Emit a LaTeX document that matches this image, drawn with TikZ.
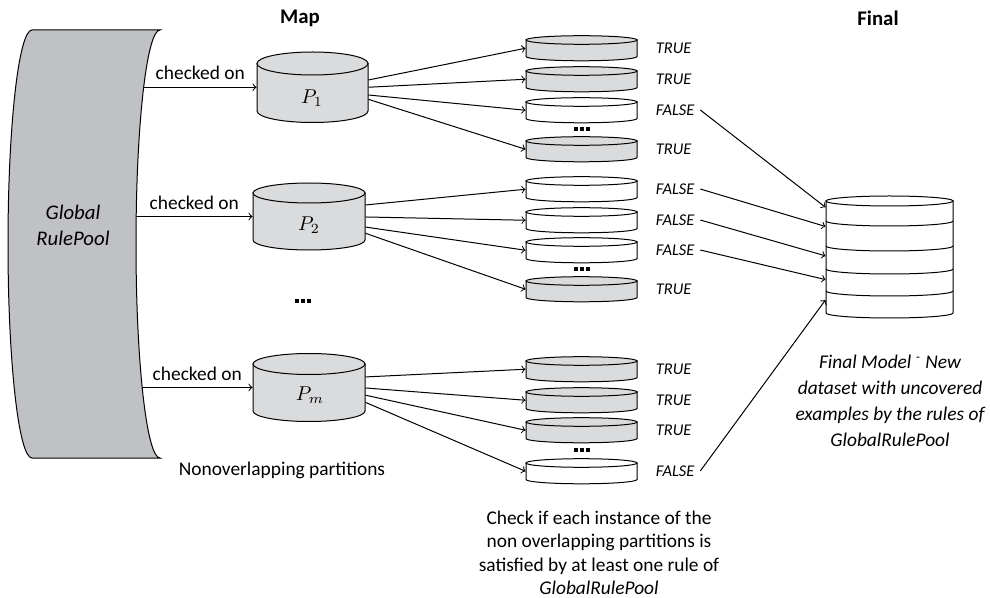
\documentclass[tikz,border=0pt]{standalone}
\usepackage{fontspec}
\setmainfont{Carlito}
\usepackage{tikz}
\usetikzlibrary{calc,fit}
\definecolor{poolgray}{RGB}{192,193,196}
\definecolor{diskgray}{RGB}{218,219,221}

% cilindro: nombre, relleno, cx, y arriba, y abajo, rx, ry
\newcommand{\cilindro}[7]{%
  \filldraw[fill=#2] (#3-#6,#4) -- (#3-#6,#5)
    arc[start angle=180, end angle=0, x radius=#6, y radius=#7] -- (#3+#6,#4) -- cycle;
  \filldraw[fill=#2] (#3,#4) ellipse[x radius=#6, y radius=#7];
  \node[fit={(#3-#6,#4) (#3+#6,#5)}, inner sep=0pt] (#1) {};
}
\newcommand{\puntitos}{\rule{2pt}{2pt}\hspace{0.8pt}\rule{2pt}{2pt}\hspace{0.8pt}\rule{2pt}{2pt}}

\begin{document}
\begin{tikzpicture}[x=0.5pt, y=-0.5pt, line width=0.5pt,
    flecha/.style={->, >=to},
    txt/.style={font=\fontsize{9.7}{11.7}\selectfont},
    etiq/.style={font=\fontsize{8.2}{10}\selectfont\itshape, anchor=west, inner sep=2.7pt},
    titulo/.style={font=\fontsize{10.4}{12}\selectfont\bfseries}]
  \useasboundingbox (0,0) rectangle (990,598);

  % Titulos
  \node[titulo] (map) at (300,18) {Map};
  \node[titulo] (final) at (878,18) {Final};

  % Global RulePool
  \filldraw[fill=poolgray] (32,30)
    arc[start angle=270, end angle=90, x radius=24, y radius=214] -- (160,458)
    arc[start angle=90, end angle=270, x radius=24, y radius=214] -- cycle;
  \node[font=\fontsize{10.4}{13}\selectfont\itshape, align=center] (pool) at (73,225) {Global\\RulePool};
  \coordinate (s1) at (144,87.25);
  \coordinate (s2) at (136,216.5);
  \coordinate (s3) at (142,387.5);

  % Particiones
  \cilindro{P1}{diskgray}{312.5}{63.5}{111}{55.5}{11.5}
  \cilindro{P2}{diskgray}{309}{193}{240}{56}{10}
  \cilindro{Pm}{diskgray}{309}{364}{411}{56}{10.5}
  \node[font=\fontsize{10}{12}\selectfont] (lp1) at (312,98) {$P_1$};
  \node[font=\fontsize{10}{12}\selectfont] (lp2) at (309,225) {$P_2$};
  \node[font=\fontsize{10}{12}\selectfont] (lpm) at (310,395) {$P_m$};
  \node (pdots) at (303,301) {\puntitos};
  \node[txt] (nonov) at (282,470) {Nonoverlapping partitions};

  \draw[flecha] (s1) -- node[above, txt] (chk1) {checked on} (P1.west);
  \draw[flecha] (s2) -- node[above, txt] (chk2) {checked on} (P2.west);
  \draw[flecha] (s3) -- node[above, txt] (chk3) {checked on} (Pm.west);

  % Discos por instancia
  \foreach \g/\k/\y/\col/\lab in {1/1/48/diskgray/TRUE, 1/2/79/diskgray/TRUE,
      1/3/110/white/FALSE, 1/4/149/diskgray/TRUE,
      2/1/189/white/FALSE, 2/2/220/white/FALSE, 2/3/250/white/FALSE, 2/4/289/diskgray/TRUE,
      3/1/369/diskgray/TRUE, 3/2/400/diskgray/TRUE, 3/3/430/diskgray/TRUE, 3/4/471/white/FALSE} {
    \cilindro{d\g\k}{\col}{581.5}{\y-8}{\y+8.5}{55.5}{4.3}
    \node[etiq] (t\g\k) at (650,\y) {\lab};
  }
  \foreach \y in {129,269,450}
    \node (dots\y) at (582,\y) {\puntitos};

  \foreach \p/\g/\fa/\fb/\fc/\fd in {P1/1/.35/.5/.66/.75, P2/2/.26/.51/.72/.85, Pm/3/.28/.51/.66/.81} {
    \draw[flecha] ($(\p.north east)!\fa!(\p.south east)$) -- (d\g1.west);
    \draw[flecha] ($(\p.north east)!\fb!(\p.south east)$) -- (d\g2.west);
    \draw[flecha] ($(\p.north east)!\fc!(\p.south east)$) -- (d\g3.west);
    \draw[flecha] ($(\p.north east)!\fd!(\p.south east)$) -- (d\g4.west);
  }

  \node[txt, align=center] (check) at (599,553) {Check if each instance of the\\non overlapping partitions is\\satisfied by at least one rule of\\\textit{GlobalRulePool}};

  % Modelo final
  \cilindro{fin}{white}{889.5}{201}{313}{63.5}{5}
  \foreach \y in {221,246,269,291}
    \draw (826,\y) arc[start angle=180, end angle=0, x radius=63.5, y radius=5];

  \draw[flecha] (t13.east) -- ($(fin.north west)!.06!(fin.south west)$);
  \draw[flecha] (t21.east) -- ($(fin.north west)!.23!(fin.south west)$);
  \draw[flecha] (t22.east) -- ($(fin.north west)!.49!(fin.south west)$);
  \draw[flecha] (t23.east) -- ($(fin.north west)!.70!(fin.south west)$);
  \draw[flecha] (t34.east) -- ($(fin.north west)!.88!(fin.south west)$);

  \node[font=\fontsize{9.7}{13}\selectfont\itshape, align=center] (fintxt) at (890,401)
    {Final Model \textsuperscript{-} New\\dataset with uncovered\\examples by the rules of\\GlobalRulePool};
\end{tikzpicture}
\end{document}
